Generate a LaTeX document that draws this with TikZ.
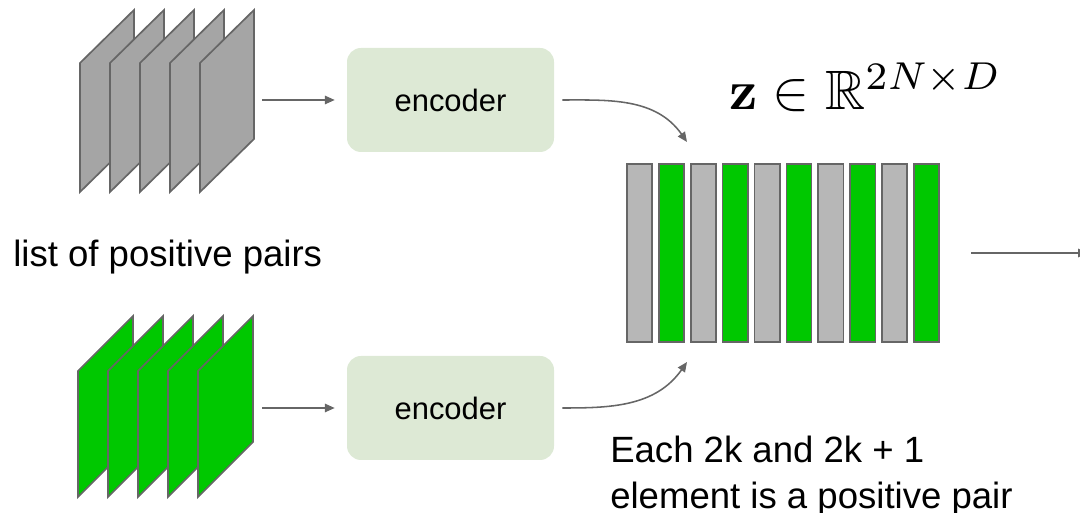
\documentclass[tikz,border=0pt]{standalone}
\usepackage[no-math]{fontspec}
\usepackage{amssymb}
\usepackage{amsmath}
\usepackage{tikz}
\usetikzlibrary{arrows.meta, positioning, fit, calc}
\newfontfamily\slidefont{Liberation Sans}
\definecolor{edgegray}{HTML}{666666}
\definecolor{sheetgray}{HTML}{A5A5A5}
\definecolor{bargray}{HTML}{B7B7B7}
\definecolor{vecgreen}{HTML}{00C800}
\definecolor{encfill}{HTML}{DDE9D5}
\tikzset{
  sheet_gray/.style={draw=edgegray, fill=sheetgray, line width=1.2pt},
  sheet_green/.style={draw=edgegray, fill=vecgreen, line width=1.2pt},
  encoder/.style={rectangle, fill=encfill, rounded corners=3.5mm, minimum width=5.175cm, minimum height=2.6cm, font=\slidefont\fontsize{22}{26}\selectfont},
  bar_gray/.style={rectangle, draw=edgegray, fill=bargray, line width=1.2pt, minimum width=0.63cm, minimum height=4.45cm, inner sep=0pt},
  bar_green/.style={bar_gray, fill=vecgreen},
  arrow/.style={-{Triangle[length=7pt, width=6pt]}, line width=1.1pt, edgegray},
  label_text/.style={font=\slidefont\fontsize{26}{32.6}\selectfont, inner sep=0pt, align=left}
}

\begin{document}
\begin{tikzpicture}
  \useasboundingbox (0,0) rectangle (27,12.825);

  % Stacks of views
  \foreach \i in {0,...,4} {
    \draw[sheet_gray] (2.0+0.75*\i, 8.025) -- ++(0,3.225) -- ++(1.35,1.325) -- ++(0,-3.225) -- cycle;
  }
  \foreach \i in {0,...,4} {
    \draw[sheet_green] (1.95+0.75*\i, 0.4) -- ++(0,3.15) -- ++(1.375,1.375) -- ++(0,-3.15) -- cycle;
  }
  \coordinate (gray_out) at (6.55, 10.325);
  \coordinate (green_out) at (6.55, 2.625);

  \node[label_text, anchor=base west] (pairs_label) at (0.325, 6.15) {list of positive pairs};

  % Encoders
  \node[encoder] (enc_top) at (11.2625, 10.325) {encoder};
  \node[encoder] (enc_bot) at (11.2625, 2.625) {encoder};

  \draw[arrow, shorten >=0.3cm] (gray_out) -- (enc_top);
  \draw[arrow, shorten >=0.3cm] (green_out) -- (enc_bot);

  % Embedding vector
  \foreach \i in {0,2,4,6,8} {
    \node[bar_gray] (bar\i) at (15.9875+0.7975*\i, 6.5) {};
  }
  \foreach \i in {1,3,5,7,9} {
    \node[bar_green] (bar\i) at (15.9875+0.7975*\i, 6.5) {};
  }
  \node[fit=(bar0)(bar9), inner sep=0pt] (zvec) {};

  \node[anchor=base west, scale=3.95, inner sep=0pt] (z_label) at (18.2, 10.075) {$\mathbf{z} \in \mathbb{R}^{2N\times D}$};

  \coordinate (z_top_in) at (17.175, 9.275);
  \coordinate (z_bot_in) at (17.175, 3.775);
  \draw[arrow, shorten <=0.2cm] (enc_top.east) to[out=0, in=125] (z_top_in);
  \draw[arrow, shorten <=0.2cm] (enc_bot.east) to[out=0, in=-125] (z_bot_in);

  \coordinate (out_end) at (27.2, 6.5);
  \draw[arrow, shorten <=0.775cm] (zvec.east) -- (out_end);

  \node[label_text, anchor=north west] (pair_note) at (15.25, 1.925) {Each 2k and 2k + 1\\element is a positive pair};
\end{tikzpicture}
\end{document}
